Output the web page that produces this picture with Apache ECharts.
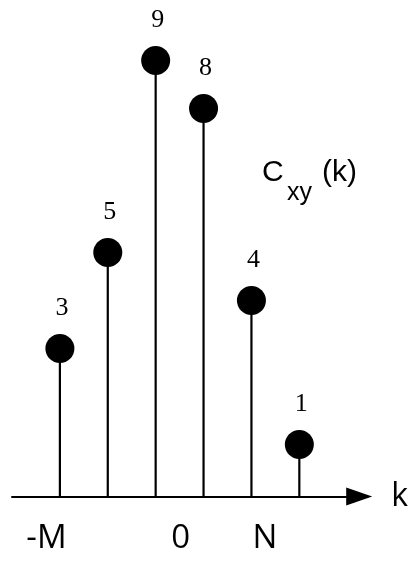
<!DOCTYPE html>
<html>
<head>
	<meta charset="UTF-8">
	<title>Cxy(k) stem plot</title>
	<script src="https://cdn.jsdelivr.net/npm/echarts@6/dist/echarts.min.js"></script>
	<style>
		html, body { margin: 0; padding: 0; background: #fff; }
		#chart { width: 411px; height: 561px; }
	</style>
</head>
<body>
<div id="chart"></div>

<script type="text/javascript">
	// stem positions along k and the sample values
	var kPos = [0, 1, 2, 3, 4, 5];
	var values = [3, 5, 9, 8, 4, 1];

	// tick labels under the axis and where they sit on k
	var tickPos = [-0.28, 2.52, 4.28];
	var tickText = ['-M', '0', 'N'];

	var Y_MIN = -0.083;

	var points = [];
	for (var i = 0; i < kPos.length; i++) {
		points.push([kPos[i], values[i]]);
	}

	var myChart = echarts.init(document.getElementById('chart'));

	var option = {
		animation: false,
		backgroundColor: '#fff',
		grid: { left: 12, right: 51, top: 12.5, bottom: 64.5 },
		xAxis: {
			type: 'value',
			min: -1,
			max: 6.25,
			splitLine: { show: false },
			axisTick: { show: false },
			axisLine: {
				show: true,
				onZero: false,
				symbol: ['none', 'triangle'],
				symbolSize: [18, 26],
				lineStyle: { color: '#000', width: 2 }
			},
			axisLabel: {
				customValues: tickPos,
				margin: 26,
				color: '#000',
				fontSize: 33,
				fontFamily: 'Open Sans',
				formatter: function (v) {
					for (var j = 0; j < tickPos.length; j++) {
						if (Math.abs(tickPos[j] - v) < 1e-6) return tickText[j];
					}
					return '';
				}
			},
			name: 'k',
			nameLocation: 'end',
			nameGap: 32,
			nameTextStyle: { color: '#000', fontSize: 32, fontFamily: 'Open Sans' }
		},
		yAxis: {
			type: 'value',
			show: false,
			min: Y_MIN,
			max: 10
		},
		graphic: [
			{ type: 'text', left: 262, top: 157.6, style: { text: 'C', fontSize: 30, fontFamily: 'Liberation Sans', fill: '#000' } },
			{ type: 'text', left: 287, top: 181, style: { text: 'xy', fontSize: 25, fontFamily: 'Liberation Sans', fill: '#000' } },
			{ type: 'text', left: 322, top: 157.6, style: { text: '(k)', fontSize: 30, fontFamily: 'Liberation Sans', fill: '#000' } }
		],
		series: [
			{
				// the stems, from the base line up to each value
				type: 'custom',
				data: points,
				renderItem: function (params, api) {
					var top = api.coord([api.value(0), api.value(1)]);
					var base = api.coord([api.value(0), Y_MIN]);
					return {
						type: 'line',
						shape: { x1: top[0], y1: top[1], x2: base[0], y2: base[1] },
						style: { stroke: '#000', lineWidth: 2.2 }
					};
				}
			},
			{
				type: 'scatter',
				data: points,
				symbol: 'circle',
				symbolSize: 29,
				itemStyle: { color: '#000', opacity: 1 },
				label: {
					show: true,
					position: 'top',
					distance: 13,
					offset: [2, 0],
					color: '#000',
					fontSize: 26,
					fontFamily: 'Liberation Serif',
					formatter: function (p) { return p.value[1]; }
				}
			}
		]
	};
	myChart.setOption(option);
</script>
</body>
</html>
